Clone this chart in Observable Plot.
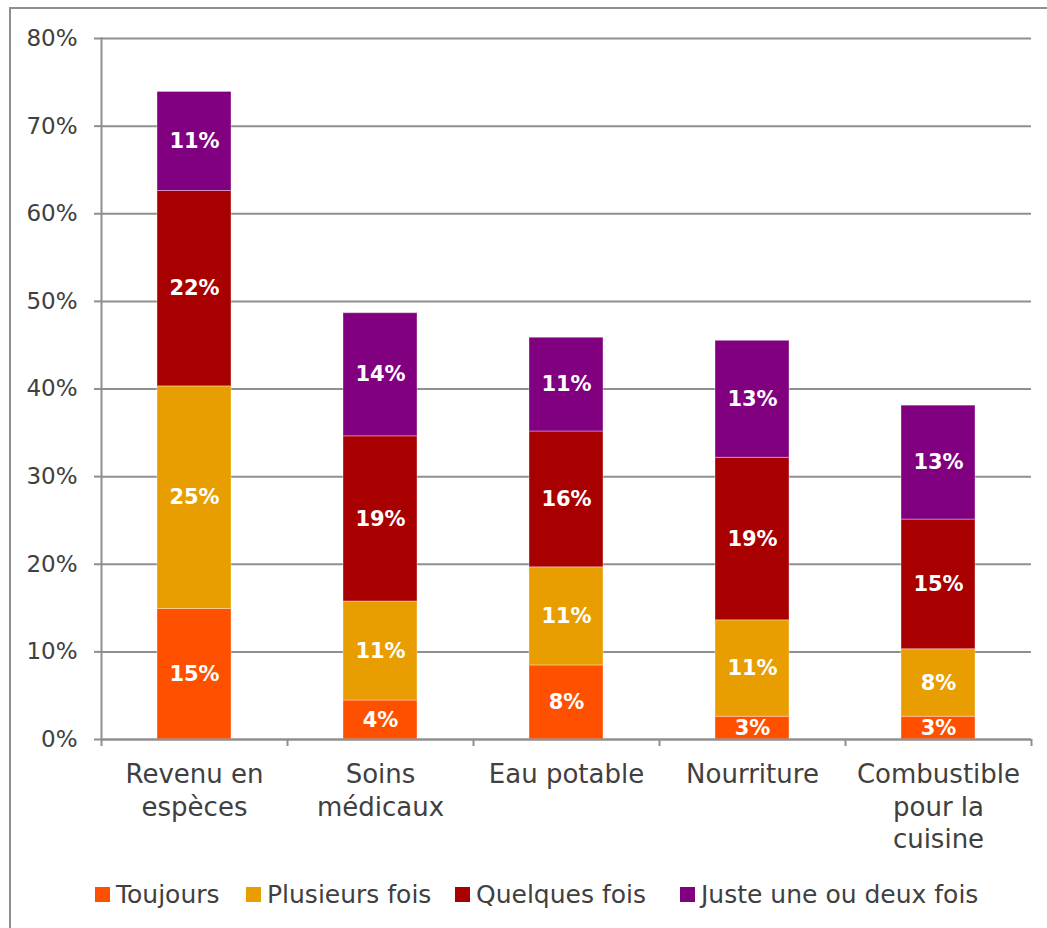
<!DOCTYPE html>
<html>
<head>
<meta charset="utf-8">
<script src="https://cdn.jsdelivr.net/npm/d3@7"></script>
<script src="https://cdn.jsdelivr.net/npm/@observablehq/plot@0.6"></script>
<style>
  html, body { margin: 0; padding: 0; background: #fff; overflow: hidden; }
  #wrap { position: relative; width: 1047px; height: 928px; overflow: hidden; font-family: "DejaVu Sans", sans-serif; }
  #frame { position: absolute; left: 9px; top: 7px; width: 1100px; height: 1000px; border: 2px solid #8f8f8f; box-sizing: border-box; }
  #chart { position: absolute; left: 0; top: 0; }
  #legend { position: absolute; left: 0; top: 878px; width: 1047px; height: 32px; font-size: 25px; color: #404040; white-space: nowrap; }
  .item { position: absolute; top: 0; display: flex; align-items: center; height: 32px; }
  .sw { width: 15px; height: 15px; margin-right: 6px; }
</style>
</head>
<body>
<div id="wrap">
  <div id="frame"></div>
  <div id="chart"></div>
  <div id="legend"></div>
</div>
<script>
const categories = ["Revenu en espèces", "Soins médicaux", "Eau potable", "Nourriture", "Combustible pour la cuisine"];
const categoryLabels = ["Revenu en\nespèces", "Soins\nmédicaux", "Eau potable", "Nourriture", "Combustible\npour la\ncuisine"];
const series = ["Toujours", "Plusieurs fois", "Quelques fois", "Juste une ou deux fois"];
const colors = ["#ff5000", "#e89e00", "#a80000", "#800080"];
const toujours = [14.9, 4.45, 8.45, 2.6, 2.6];
const plusieurs = [25.4, 11.3, 11.2, 11.0, 7.7];
const quelques = [22.3, 18.85, 15.5, 18.55, 14.8];
const juste = [11.3, 14.05, 10.7, 13.35, 13.0];
const yTicks = [0, 10, 20, 30, 40, 50, 60, 70, 80];
const legendLeft = [95, 246, 455, 680];

const seriesValues = [toujours, plusieurs, quelques, juste];
const data = [];
series.forEach((s, si) => categories.forEach((c, ci) => data.push({category: c, series: s, value: seriesValues[si][ci]})));

const W = 1047, H = 870, ML = 101, MR = 16, MT = 38, MB = 131;
const halfStep = (W - ML - MR) / categories.length / 2;
const gray = "#8f8f8f";

const chart = Plot.plot({
  width: W, height: H,
  marginLeft: ML, marginRight: MR, marginTop: MT, marginBottom: MB,
  style: {fontFamily: "DejaVu Sans, sans-serif", background: "transparent"},
  x: {domain: categories, paddingInner: 0.6, paddingOuter: 0.3},
  y: {domain: [0, 80]},
  color: {domain: series, range: colors},
  marks: [
    Plot.gridY(yTicks, {stroke: gray, strokeOpacity: 1, strokeWidth: 2}),
    Plot.axisY({ticks: yTicks, tickSize: 7, tickPadding: 17, tickFormat: d => d + "%", stroke: gray, strokeWidth: 2, fontSize: 23, fill: "#404040", label: null}),
    Plot.barY(data, Plot.stackY({x: "category", y: "value", fill: "series", stroke: "#ffffff", strokeOpacity: 0.35, strokeWidth: 1})),
    Plot.text(data, Plot.stackY({x: "category", y: "value", z: "series", text: d => Math.round(d.value) + "%", fill: "#ffffff", fontSize: 21, fontWeight: "bold"})),
    Plot.frame({anchor: "left", stroke: gray, strokeWidth: 2}),
    Plot.ruleY([0], {stroke: gray, strokeWidth: 2}),
    Plot.ruleX(categories, {x: d => d, y1: 0, y2: 0, insetBottom: -7, dx: -halfStep, stroke: gray, strokeWidth: 2}),
    Plot.ruleX(categories.slice(-1), {x: d => d, y1: 0, y2: 0, insetBottom: -7, dx: halfStep, stroke: gray, strokeWidth: 2}),
    Plot.axisX({tickSize: 0, tickPadding: 21, tickFormat: d => categoryLabels[categories.indexOf(d)], fontSize: 26, lineHeight: 1.24, fill: "#404040", label: null})
  ]
});
document.getElementById("chart").appendChild(chart);

const legend = document.getElementById("legend");
series.forEach((s, i) => {
  const item = document.createElement("div");
  item.className = "item";
  item.style.left = legendLeft[i] + "px";
  const sw = document.createElement("div");
  sw.className = "sw";
  sw.style.background = colors[i];
  const t = document.createElement("span");
  t.textContent = s;
  item.appendChild(sw); item.appendChild(t);
  legend.appendChild(item);
});
</script>
</body>
</html>
